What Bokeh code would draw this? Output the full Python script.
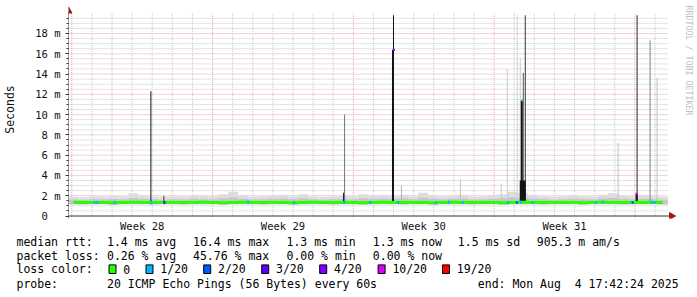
import numpy as np
from bokeh.plotting import figure
from bokeh.models import Range1d, FixedTicker
from bokeh.embed import file_html
from bokeh.resources import INLINE
from bokeh.core.properties import value

# ---------------- data ----------------
week_labels = ["Week 28", "Week 29", "Week 30", "Week 31"]
first_week_start_day = 0.164          # Monday 00:00 of week 28, days after chart start
chart_span_days = 29.8
n_bins = 60

median_ms = [1.33, 1.32, 1.34, 1.33, 1.31, 1.33, 1.35, 1.34, 1.32, 1.33,
             1.34, 1.32, 1.33, 1.36, 1.33, 1.31, 1.33, 1.35, 1.33, 1.32,
             1.34, 1.33, 1.31, 1.33, 1.35, 1.33, 1.32, 1.34, 1.33, 1.31,
             1.33, 1.35, 1.34, 1.32, 1.34, 1.33, 1.31, 1.33, 1.35, 1.33,
             1.32, 1.33, 1.34, 1.31, 1.33, 1.35, 1.33, 1.32, 1.33, 1.34,
             1.33, 1.31, 1.33, 1.35, 1.33, 1.32, 1.34, 1.33, 1.33, 1.32]
smoke_low_ms = [1.15, 1.14, 1.16, 1.15, 1.13, 1.15, 1.17, 1.15, 1.14, 1.15,
                1.16, 1.14, 1.15, 1.17, 1.15, 1.13, 1.15, 1.16, 1.15, 1.14,
                1.16, 1.15, 1.13, 1.15, 1.16, 1.15, 1.14, 1.16, 1.15, 1.13,
                1.15, 1.16, 1.16, 1.14, 1.16, 1.15, 1.13, 1.15, 1.17, 1.15,
                1.14, 1.15, 1.16, 1.13, 1.15, 1.16, 1.15, 1.14, 1.15, 1.16,
                1.15, 1.13, 1.15, 1.16, 1.15, 1.14, 1.16, 1.15, 1.15, 1.14]
smoke_mid_ms = [1.62, 1.58, 1.66, 1.63, 1.68, 1.65, 1.78, 1.70, 1.66, 1.60,
                1.65, 1.62, 1.70, 1.66, 1.65, 1.74, 1.82, 1.70, 1.62, 1.66,
                1.70, 1.72, 1.65, 1.76, 1.66, 1.60, 1.65, 1.70, 1.66, 1.76,
                1.70, 1.72, 1.70, 1.74, 1.66, 1.80, 1.70, 1.65, 1.70, 1.72,
                1.62, 1.66, 1.70, 1.76, 1.82, 1.80, 1.72, 1.65, 1.60, 1.66,
                1.70, 1.65, 1.62, 1.72, 1.78, 1.70, 1.65, 1.70, 1.66, 1.60]
smoke_high_ms = [1.90, 1.85, 1.95, 1.92, 2.00, 1.95, 2.25, 2.05, 1.95, 1.90,
                 1.95, 1.92, 2.05, 1.98, 1.95, 2.15, 2.40, 2.05, 1.92, 1.95,
                 2.05, 2.10, 1.95, 2.15, 1.95, 1.90, 1.95, 2.05, 1.95, 2.15,
                 2.05, 2.10, 2.05, 2.10, 1.95, 2.30, 2.05, 1.95, 2.05, 2.10,
                 1.92, 1.95, 2.05, 2.15, 2.40, 2.30, 2.10, 1.95, 1.90, 1.95,
                 2.05, 1.95, 1.92, 2.10, 2.25, 2.05, 1.95, 2.05, 1.95, 1.90]

# tall latency spikes (smoke columns)
spike_day = [4.12, 4.72, 13.72, 16.17, 16.58, 19.51, 21.52, 21.83, 22.33, 22.44,
             22.62, 22.72, 27.34, 28.26, 28.93, 29.28]
spike_top_ms = [12.3, 2.0, 10.0, 19.8, 3.0, 3.6, 3.2, 14.5, 19.8, 15.6,
                14.1, 19.8, 7.2, 19.8, 17.3, 13.6]
spike_density = [1.0, 0.8, 0.55, 1.0, 0.25, 0.2, 0.15, 0.15, 0.12, 0.15,
                 0.7, 0.85, 0.2, 0.9, 0.5, 0.2]

# dense (dark) bursts
burst_start_day = [13.67, 16.10, 22.47, 22.52, 28.22]
burst_end_day = [13.75, 16.21, 22.76, 22.61, 28.31]
burst_top_ms = [2.3, 16.4, 3.5, 11.4, 2.2]

# loss legend
loss_labels = ["0", "1/20", "2/20", "3/20", "4/20", "10/20", "19/20"]
loss_colors = ["#26ff00", "#00b8ff", "#0059ff", "#5e00ff", "#7e00ff", "#dd00ff", "#ff0000"]

# loss events on the median line (day, index into loss_labels)
loss_event_day = [1.26, 1.42, 2.25, 4.12, 4.73, 8.92, 11.19, 13.70, 14.96, 16.37,
                  18.23, 18.88, 19.60, 21.83, 22.28, 22.45, 23.07, 26.18, 26.55,
                  28.03, 28.99, 29.14]
loss_event_level = [1, 1, 1, 1, 3, 1, 1, 1, 1, 1,
                    1, 1, 1, 1, 2, 1, 1, 1, 1,
                    2, 1, 1]

# median samples at spike tops
median_spike_day = [16.15, 22.57, 28.24]
median_spike_ms = [16.4, 11.4, 2.2]
median_spike_level = [4, 1, 5]

# statistics text
stats_rows = [
    ["median rtt:", "1.4 ms avg", "16.4 ms max", "1.3 ms min", "1.3 ms now", "1.5 ms sd", "905.3 m am/s"],
    ["packet loss:", "0.26 % avg", "45.76 % max", "0.00 % min", "0.00 % now"],
]
loss_row_title = "loss color:"
probe_title = "probe:"
probe_text = "20 ICMP Echo Pings (56 Bytes) every 60s"
end_text = "end: Mon Aug\u00a0 4 17:42:24 2025"
y_tick_values = [0, 2, 4, 6, 8, 10, 12, 14, 16, 18]

# ---------------- layout ----------------
W = 697
H1 = 234
H2 = 63
PX_DAY = 20.143
PX_MS = 10.139
FRAME_LEFT = 67
FRAME_BOTTOM = 218
ZERO_Y = 215.5

MONO = "DejaVu Sans Mono"

x_end = (W - FRAME_LEFT) / PX_DAY
y_start = -(FRAME_BOTTOM - ZERO_Y) / PX_MS
y_end = ZERO_Y / PX_MS

p = figure(width=W, height=H1, x_range=Range1d(0, x_end), y_range=Range1d(y_start, y_end),
           output_backend="svg", toolbar_location=None,
           min_border_left=FRAME_LEFT, min_border_right=0, min_border_top=0,
           min_border_bottom=H1 - FRAME_BOTTOM)
p.outline_line_color = None
p.grid.visible = False
p.background_fill_color = "white"
p.border_fill_color = "white"

grid_right = (668 - FRAME_LEFT) / PX_DAY
grid_top = 20.0

minor_col = "#c8c8c8"
major_col = "#eba4a4"

# horizontal grid
minor_y = [0.5 * k for k in range(1, 40) if k % 4 != 0]
major_y = [t for t in y_tick_values if t > 0]
p.segment(x0=[0] * len(minor_y), x1=[grid_right] * len(minor_y), y0=minor_y, y1=minor_y,
          line_color=minor_col, line_width=1, line_dash="1 1")
p.segment(x0=[0] * len(major_y), x1=[grid_right] * len(major_y), y0=major_y, y1=major_y,
          line_color=major_col, line_width=1, line_dash="1 1")
# vertical grid
day_lines = [first_week_start_day + k for k in range(0, 30) if first_week_start_day + k < grid_right]
minor_x = [d for i, d in enumerate(day_lines) if i % 7 != 0]
major_x = [d for i, d in enumerate(day_lines) if i % 7 == 0]
p.segment(x0=minor_x, x1=minor_x, y0=[0] * len(minor_x), y1=[grid_top] * len(minor_x),
          line_color=minor_col, line_width=1, line_dash="1 1")
p.segment(x0=major_x, x1=major_x, y0=[-0.3] * len(major_x), y1=[grid_top] * len(major_x),
          line_color=major_col, line_width=1, line_dash="1 1")

# smoke
bin_w = chart_span_days / n_bins
left = [i * bin_w for i in range(n_bins)]
right = [(i + 1) * bin_w for i in range(n_bins)]
p.quad(left=left, right=right, bottom=smoke_low_ms, top=smoke_high_ms,
       fill_color="#dddddd", line_color=None)
p.quad(left=left, right=right, bottom=smoke_low_ms, top=smoke_mid_ms,
       fill_color="#c6c6c6", line_color=None)


def grey(d):
    g = int(round(235 - 215 * d))
    return "#%02x%02x%02x" % (g, g, g)


def median_at(day):
    i = min(n_bins - 1, max(0, int(day / bin_w)))
    return median_ms[i]


def snap(day):
    # snap a time to the left edge of its screen pixel column
    return np.floor(day * PX_DAY) / PX_DAY


one_px = 1.0 / PX_DAY
sp_left = [snap(d) for d in spike_day]
p.quad(left=sp_left, right=[l + one_px for l in sp_left],
       bottom=[median_at(d) for d in spike_day], top=spike_top_ms,
       fill_color=[grey(d) for d in spike_density], line_color=None)
b_left = [snap(d) for d in burst_start_day]
b_right = [max(snap(e), snap(s) + one_px) for s, e in zip(burst_start_day, burst_end_day)]
p.quad(left=b_left, right=b_right,
       bottom=[median_at(d) for d in burst_start_day], top=burst_top_ms,
       fill_color="#141414", line_color=None)

# median line
centers = [(l + r) / 2 for l, r in zip(left, right)]
p.step(x=centers, y=median_ms, mode="center", line_color=loss_colors[0], line_width=3)

# loss events
le_left = [snap(d) for d in loss_event_day]
p.quad(left=le_left, right=[l + 2 * one_px for l in le_left],
       bottom=[median_at(d) - 0.15 for d in loss_event_day],
       top=[median_at(d) + 0.15 for d in loss_event_day],
       fill_color=[loss_colors[i] for i in loss_event_level], line_color=None)
ms_left = [snap(d) for d in median_spike_day]
p.quad(left=ms_left, right=[l + 2 * one_px for l in ms_left],
       bottom=[m - 0.1 for m in median_spike_ms], top=[m + 0.1 for m in median_spike_ms],
       fill_color=[loss_colors[i] for i in median_spike_level], line_color=None)

# axes lines and arrows
axis_col = "#333333"
arrow_col = "#a01818"
p.segment(x0=[0], x1=[0], y0=[y_start], y1=[(ZERO_Y - 12) / PX_MS], line_color=axis_col, line_width=1)
p.segment(x0=[-3 / PX_DAY], x1=[(669 - FRAME_LEFT) / PX_DAY], y0=[0], y1=[0],
          line_color=axis_col, line_width=1)
p.scatter(x=[0], y=[(ZERO_Y - 10.5) / PX_MS], marker="triangle", size=7,
          fill_color=arrow_col, line_color=arrow_col)
p.scatter(x=[(671 - FRAME_LEFT) / PX_DAY], y=[0], marker="triangle", size=7, angle=-np.pi / 2,
          fill_color=arrow_col, line_color=arrow_col)

# watermark
p.text(x=[(688 - FRAME_LEFT) / PX_DAY], y=[(ZERO_Y - 60) / PX_MS], text=["RRDTOOL / TOBI OETIKER"],
       angle=-np.pi / 2, text_align="center", text_baseline="middle",
       text_font=value(MONO), text_font_size=value("8.3px"), text_color="#c0c0c0")

# y axis
p.yaxis.ticker = FixedTicker(ticks=y_tick_values, minor_ticks=[0.5 * k for k in range(0, 40)])
p.yaxis.major_label_overrides = {t: ("0\u00a0\u00a0" if t == 0 else "%d m" % t) for t in y_tick_values}
p.yaxis.axis_line_color = None
p.yaxis.major_tick_line_color = axis_col
p.yaxis.major_tick_out = 3
p.yaxis.major_tick_in = 0
p.yaxis.minor_tick_line_color = axis_col
p.yaxis.minor_tick_out = 2
p.yaxis.minor_tick_in = 0
p.yaxis.major_label_standoff = 5
p.yaxis.major_label_text_font = MONO
p.yaxis.major_label_text_font_size = "10.5px"
p.yaxis.major_label_text_color = "#111111"
p.yaxis.axis_label = "Seconds"
p.yaxis.axis_label_text_font = MONO
p.yaxis.axis_label_text_font_size = "11.5px"
p.yaxis.axis_label_text_font_style = "normal"
p.yaxis.axis_label_text_color = "#111111"
p.yaxis.axis_label_standoff = 15

# x axis
week_centers = [first_week_start_day + 7 * k + 3.5 for k in range(len(week_labels))]
p.xaxis.ticker = FixedTicker(ticks=week_centers, minor_ticks=[])
p.xaxis.major_label_overrides = {c: lab for c, lab in zip(week_centers, week_labels)}
p.xaxis.axis_line_color = None
p.xaxis.major_tick_line_color = None
p.xaxis.minor_tick_line_color = None
p.xaxis.major_tick_out = 0
p.xaxis.minor_tick_out = 0
p.xaxis.major_label_standoff = 1
p.xaxis.major_label_text_font = MONO
p.xaxis.major_label_text_font_size = "10.5px"
p.xaxis.major_label_text_color = "#111111"

# ---------------- legend / stats panel (separate root, full-width frame) ----------------
q = figure(width=W, height=H2, x_range=Range1d(0, W), y_range=Range1d(H2, 0),
           output_backend="svg", toolbar_location=None,
           x_axis_location=None, y_axis_location=None,
           min_border_left=0, min_border_right=0, min_border_top=0, min_border_bottom=0)
q.outline_line_color = None
q.grid.visible = False
q.background_fill_color = "white"
q.border_fill_color = "white"

row_y = [241.3 - H1, 255.3 - H1, 268.7 - H1, 283.7 - H1]
stat_cols = [16, 106.5, 192.5, 286, 372.3, 457.3, 536.3]

tx, ty, tt = [], [], []
for r, row in enumerate(stats_rows):
    for c, s in enumerate(row):
        tx.append(stat_cols[c]); ty.append(row_y[r]); tt.append(s)

box_left = [108.5, 145.5, 203.2, 261.2, 319.2, 377.6, 442.0]
tx.append(16); ty.append(row_y[2]); tt.append(loss_row_title)
for bl, lab in zip(box_left, loss_labels):
    tx.append(bl + 14.3); ty.append(row_y[2]); tt.append(lab)
tx += [16, stat_cols[1], 477.3]
ty += [row_y[3]] * 3
tt += [probe_title, probe_text, end_text]

q.text(x=tx, y=ty, text=tt, text_align="left", text_baseline="middle",
       text_font=value(MONO), text_font_size=value("11.5px"), text_color="#000000")
q.quad(left=box_left, right=[b + 7 for b in box_left],
       top=[264.4 - H1] * len(box_left), bottom=[273.0 - H1] * len(box_left),
       fill_color=loss_colors, line_color="#000000", line_width=1)

open("out.html", "w").write(file_html([p, q], INLINE))
